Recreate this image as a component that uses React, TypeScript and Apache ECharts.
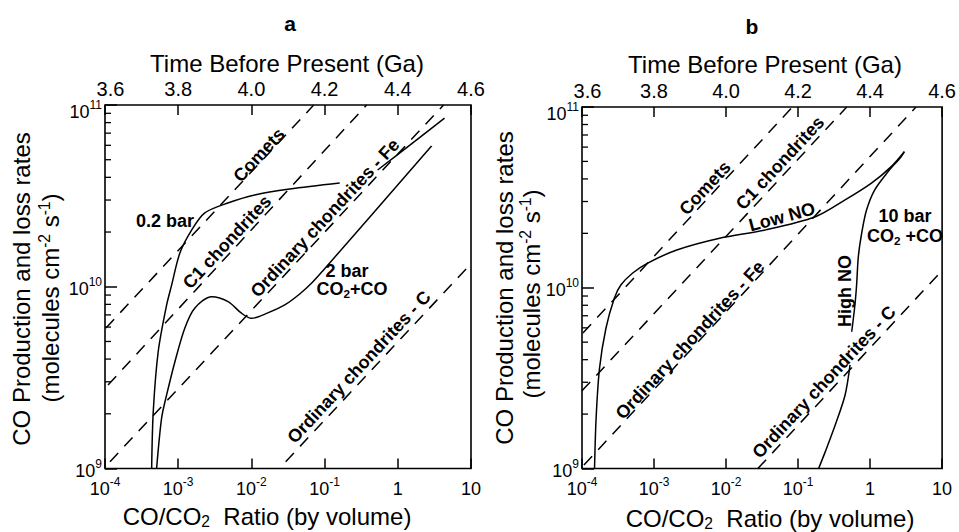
import React, { useEffect, useRef } from "react";
import * as echarts from "echarts";

// ---------------- data ----------------
const ratioMin = 1e-4;
const ratioMax = 10;
const rateMin = 1e9;
const rateMax = 1e11;
const timeMin = 3.6;
const timeMax = 4.6;
const timeStep = 0.2;

// log minor tick positions on the rate axis
const rateDecades = [1e9, 1e10];
const minorMultipliers = [2, 3, 4, 5, 6, 7, 8, 9];

// Panel a: dashed delivery lines (CO/CO2 ratio, rate)
const aComets = [[1.03e-4, 5.93e9], [0.071, 1e11]];
const aC1 = [[1.1e-4, 2.88e9], [0.375, 1e11]];
const aOrdFe = [[1.17e-4, 1.09e9], [4.22, 1e11]];
const aOrdC = [[0.0294, 1.09e9], [9.84, 1.33e10]];

// Panel a: 0.2 bar curve (split where the label covers it)
const a02barLow = [
  [4.34e-4, 1e9], [4.56e-4, 2.05e9], [5.33e-4, 4.39e9], [6.95e-4, 7.94e9],
  [8.13e-4, 1.02e10], [1.055e-3, 1.535e10], [1.524e-3, 2.05e10], [2.31e-3, 2.55e10],
  [4.76e-3, 2.89e10], [0.0111, 3.2e10], [0.0334, 3.45e10], [0.1607, 3.72e10],
];
const a02barHigh = [[0.53, 4.39e10], [1.79, 6.41e10], [4.35, 8.47e10]];

// Panel a: 2 bar curve
const a2bar = [
  [5.07e-4, 1e9], [5.94e-4, 1.9e9], [6.95e-4, 2.54e9], [9.02e-4, 3.87e9],
  [1.233e-3, 5.93e9], [1.69e-3, 7.64e9], [2.86e-3, 8.81e9], [4.81e-3, 8.28e9],
  [7.32e-3, 7.15e9], [0.01, 6.7e9], [0.01675, 7.18e9], [0.02856, 7.94e9],
  [0.0457, 9.12e9], [0.0667, 1.048e10], [0.0942, 1.221e10], [2.89, 5.94e10],
];

// Panel b: dashed delivery lines
const bComets = [[1.03e-4, 5.62e9], [0.0836, 1e11]];
const bC1 = [[1e-4, 2.69e9], [0.474, 1e11]];
const bOrdFe = [[1.064e-4, 1.045e9], [4.34, 1e11]];
const bOrdC = [[0.0277, 1e9], [9.53, 1.22e10]];

// Panel b: 10 bar curves
const bLowNO = [
  [1.493e-4, 1e9], [1.57e-4, 1.897e9], [1.75e-4, 3.58e9], [2.15e-4, 5.97e9],
  [2.81e-4, 8.75e9], [3.46e-4, 1.035e10], [5.01e-4, 1.203e10], [8.04e-4, 1.365e10],
  [2.07e-3, 1.618e10], [8.15e-3, 1.879e10], [0.0356, 2.09e10], [0.174, 2.47e10],
  [0.45, 3.06e10], [1.045, 3.79e10], [1.966, 4.68e10], [2.99, 5.66e10],
];
const bHighNOUpper = [
  [2.99, 5.66e10], [2.7, 5.31e10], [1.77, 4.38e10], [1.16, 3.48e10],
  [0.893, 2.69e10], [0.764, 2.0e10], [0.687, 1.486e10], [0.65, 1.035e10],
  [0.616, 8.03e9], [0.556, 5.71e9],
];
const bHighNOLower = [
  [0.527, 3.74e9], [0.45, 2.55e9], [0.328, 1.74e9], [0.239, 1.24e9], [0.193, 1e9],
];

// ---------------- styling ----------------
const FONT = "'Liberation Sans', Arial, Helvetica, sans-serif";
const BLACK = "#000";

const tickRich = {
  b: { fontSize: 18, lineHeight: 22, fontFamily: FONT, color: BLACK, verticalAlign: "bottom" },
  sup: { fontSize: 12, lineHeight: 12, fontFamily: FONT, color: BLACK, verticalAlign: "top" },
  t: { fontSize: 20, fontFamily: FONT, color: BLACK },
  tl: { fontSize: 20, fontFamily: FONT, color: BLACK, padding: [0, 0, 0, 11] },
};

const ratioLabel = (v: number) => {
  const e = Math.round(Math.log10(v));
  if (e === 0) return "{b|1}";
  if (e === 1) return "{b|10}";
  return "{b|10}{sup|" + e + "}";
};
const rateLabel = (v: number) => {
  const e = Math.round(Math.log10(v));
  // the top label sits a little below its tick in the reference
  if (e === 11) return " \n{b|10}{sup|" + e + "}";
  return "{b|10}{sup|" + e + "}";
};
const timeLabel = (v: number) => {
  const s = v.toFixed(1);
  return s === "3.6" ? "{tl|" + s + "}" : "{t|" + s + "}";
};

const grids = [
  { left: 105, top: 105, width: 366, height: 363.5 },
  { left: 582, top: 107, width: 364.5, height: 361.5 },
];

function bottomAxis(gridIndex: number) {
  return {
    type: "log", gridIndex, logBase: 10, min: ratioMin, max: ratioMax, position: "bottom",
    axisLine: { show: false },
    axisTick: { show: true, inside: true, length: 10, lineStyle: { color: BLACK, width: 1.5 } },
    minorTick: { show: false },
    splitLine: { show: false },
    axisLabel: { formatter: ratioLabel, rich: tickRich, margin: 7, color: BLACK },
  };
}
function topAxis(gridIndex: number) {
  return {
    type: "value", gridIndex, position: "top", min: timeMin, max: timeMax, interval: timeStep,
    axisLine: { show: false },
    axisTick: { show: true, inside: true, length: 10, lineStyle: { color: BLACK, width: 1.5 } },
    splitLine: { show: false },
    axisLabel: { formatter: timeLabel, rich: tickRich, color: BLACK, margin: 6 },
  };
}
function leftAxis(gridIndex: number) {
  return {
    type: "log", gridIndex, logBase: 10, min: rateMin, max: rateMax,
    axisLine: { show: false },
    axisTick: { show: true, inside: true, length: 12, lineStyle: { color: BLACK, width: 1.5 } },
    minorTick: { show: false },
    splitLine: { show: false },
    axisLabel: {
      formatter: rateLabel, rich: tickRich, margin: 3, color: BLACK,
      fontSize: 8, lineHeight: 9, fontFamily: FONT,
    },
  };
}

const minorTickValues: number[] = [];
rateDecades.forEach((d) => minorMultipliers.forEach((m) => minorTickValues.push(d * m)));

function minorTicks(xi: number, yi: number) {
  return {
    type: "custom", xAxisIndex: xi, yAxisIndex: yi, silent: true, clip: false, z: 4,
    data: minorTickValues.map((v) => [ratioMin, v]),
    renderItem: (_p: any, api: any) => {
      const p = api.coord([api.value(0), api.value(1)]);
      return {
        type: "line",
        shape: { x1: p[0], y1: p[1], x2: p[0] + 6, y2: p[1] },
        style: { stroke: BLACK, lineWidth: 1.3 },
      };
    },
  };
}

function dashed(data: number[][], xi: number, yi: number) {
  return {
    type: "line", xAxisIndex: xi, yAxisIndex: yi, data, symbol: "none", silent: true,
    lineStyle: { color: BLACK, width: 1.5, type: [12, 9] }, z: 2,
  };
}
function solid(data: number[][], xi: number, yi: number) {
  return {
    type: "line", xAxisIndex: xi, yAxisIndex: yi, data, symbol: "none", silent: true, smooth: 0.3,
    lineStyle: { color: BLACK, width: 1.5, type: "solid" }, z: 3,
  };
}

const ROT = (47 * Math.PI) / 180;
const richSmall = (size: number, bold: boolean) => ({
  sub: { fontSize: size * 0.65, lineHeight: size * 0.6, fontFamily: FONT, fontWeight: bold ? "bold" : "normal", fill: BLACK, verticalAlign: "bottom" },
  sup: { fontSize: size * 0.65, lineHeight: size * 0.6, fontFamily: FONT, fontWeight: bold ? "bold" : "normal", fill: BLACK, verticalAlign: "top" },
});

function txt(x: number, y: number, text: string, size: number, bold = false, rot = 0) {
  return {
    type: "text", x, y, rotation: rot, silent: true, z: 10,
    style: {
      text, fill: BLACK, fontSize: size, fontFamily: FONT, fontWeight: bold ? "bold" : "normal",
      lineHeight: size * 1.15,
      align: "center", verticalAlign: "middle", textAlign: "center", textVerticalAlign: "middle",
      rich: richSmall(size, bold),
    },
  };
}

function buildOption() {
  const TITLE = 24;
  const LBL = 18;
  return {
    animation: false,
    backgroundColor: "#fff",
    grid: grids.map((g) => ({ ...g, show: true, borderColor: BLACK, borderWidth: 1.6, backgroundColor: "transparent", containLabel: false })),
    xAxis: [bottomAxis(0), topAxis(0), bottomAxis(1), topAxis(1)],
    yAxis: [leftAxis(0), leftAxis(1)],
    series: [
      minorTicks(0, 0), minorTicks(2, 1),
      dashed(aComets, 0, 0), dashed(aC1, 0, 0), dashed(aOrdFe, 0, 0), dashed(aOrdC, 0, 0),
      solid(a02barLow, 0, 0), solid(a02barHigh, 0, 0), solid(a2bar, 0, 0),
      dashed(bComets, 2, 1), dashed(bC1, 2, 1), dashed(bOrdFe, 2, 1), dashed(bOrdC, 2, 1),
      solid(bLowNO, 2, 1), solid(bHighNOUpper, 2, 1), solid(bHighNOLower, 2, 1),
    ],
    graphic: [
      // panel letters
      txt(290, 23, "a", 21, true),
      txt(752, 26, "b", 21, true),
      // top axis titles
      txt(287, 63, "Time Before Present (Ga)", TITLE),
      txt(765, 64, "Time Before Present (Ga)", TITLE),
      // bottom axis titles
      txt(267, 516, "CO/CO{sub|2}  Ratio (by volume)", TITLE),
      txt(770, 518, "CO/CO{sub|2}  Ratio (by volume)", TITLE),
      // y axis titles
      txt(21, 289, "CO Production and loss rates", TITLE, false, Math.PI / 2),
      txt(50, 298, "(molecules cm{sup|-2} s{sup|-1})", TITLE, false, Math.PI / 2),
      txt(504, 288, "CO Production and loss rates", TITLE, false, Math.PI / 2),
      txt(531, 294, "(molecules cm{sup|-2} s{sup|-1})", TITLE, false, Math.PI / 2),
      // panel a annotations
      txt(259, 155, "Comets", LBL, true, ROT),
      txt(227, 242, "C1 chondrites", LBL, true, ROT),
      txt(325, 218, "Ordinary chondrites - Fe", LBL, true, ROT),
      txt(359, 367, "Ordinary chondrites - C", LBL, true, ROT),
      txt(165, 221, "0.2 bar", LBL, true),
      txt(347, 271, "2 bar", LBL, true),
      txt(352, 289, "CO{sub|2}+CO", LBL, true),
      // panel b annotations
      txt(705, 188, "Comets", LBL, true, ROT),
      txt(780, 163, "C1 chondrites", LBL, true, ROT),
      txt(782, 217, "Low NO", LBL, true, (15 * Math.PI) / 180),
      txt(690, 340, "Ordinary chondrites - Fe", LBL, true, ROT),
      txt(824, 382, "Ordinary chondrites - C", LBL, true, ROT),
      txt(845, 291, "High NO", LBL, true, Math.PI / 2),
      txt(905, 216, "10 bar", LBL, true),
      txt(905, 236, "CO{sub|2} +CO", LBL, true),
    ],
  };
}

export default function App() {
  const ref = useRef<HTMLDivElement>(null);
  useEffect(() => {
    if (!ref.current) return;
    const chart = echarts.init(ref.current, null, { renderer: "svg" });
    chart.setOption(buildOption() as any);
    return () => chart.dispose();
  }, []);
  return (
    <div
      ref={ref}
      style={{ position: "absolute", left: 0, top: 0, width: 959, height: 532, background: "#fff" }}
    />
  );
}
